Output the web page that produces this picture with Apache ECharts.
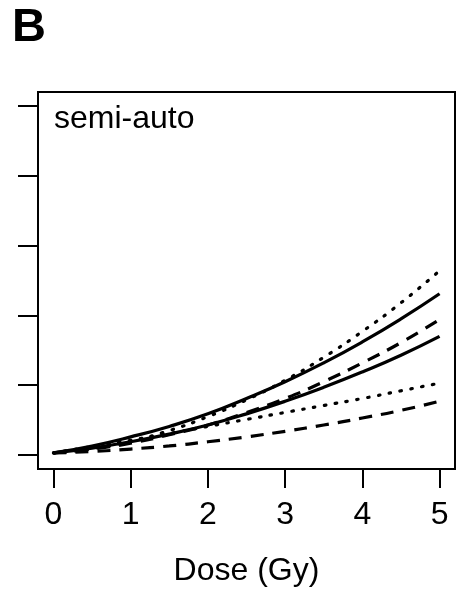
<!DOCTYPE html>
<html>
<head>
<meta charset="utf-8">
<script src="https://cdn.jsdelivr.net/npm/echarts@6/dist/echarts.min.js"></script>
<style>
html,body{margin:0;padding:0;background:#fff;}
#chart{width:456px;height:600px;}
</style>
</head>
<body>
<div id="chart"></div>
<script>
const doses = [0, 0.5, 1, 1.5, 2, 2.5, 3, 3.5, 4, 4.5, 5];
const xTicks = [0, 1, 2, 3, 4, 5];
const yTicks = [0, 1, 2, 3, 4, 5];
const solidUpper  = [0.03, 0.13, 0.26, 0.41, 0.59, 0.81, 1.05, 1.32, 1.62, 1.95, 2.31];
const solidLower  = [0.03, 0.10, 0.19, 0.30, 0.43, 0.59, 0.77, 0.97, 1.19, 1.43, 1.70];
const dottedUpper = [0.03, 0.09, 0.20, 0.35, 0.55, 0.79, 1.07, 1.40, 1.77, 2.18, 2.64];
const dottedLower = [0.03, 0.12, 0.21, 0.31, 0.41, 0.51, 0.61, 0.71, 0.81, 0.92, 1.03];
const dashedUpper = [0.03, 0.085, 0.17, 0.29, 0.43, 0.61, 0.81, 1.05, 1.32, 1.61, 1.94];
const dashedLower = [0.03, 0.05, 0.086, 0.13, 0.19, 0.26, 0.34, 0.43, 0.53, 0.64, 0.77];

const toPairs = v => doses.map((d, i) => [d, v[i]]);
const FONT = '"Liberation Sans", Arial, sans-serif';

function mk(vals, type, cap) {
  return {
    type: 'line', data: toPairs(vals), smooth: true, showSymbol: false,
    silent: true, animation: false,
    lineStyle: { color: '#000', width: 3.2, type: type, cap: cap || 'butt' }
  };
}

const chart = echarts.init(document.getElementById('chart'), null, { renderer: 'canvas' });
chart.setOption({
  backgroundColor: '#fff',
  animation: false,
  grid: { left: 38, right: 1, top: 92, bottom: 131, show: true, borderColor: '#000', borderWidth: 2,
          backgroundColor: 'transparent', containLabel: false, outerBoundsMode: 'none' },
  xAxis: {
    type: 'value', min: -0.2, max: 5.2,
    name: 'Dose (Gy)', nameLocation: 'middle', nameGap: 86,
    nameTextStyle: { fontSize: 32, color: '#000', fontFamily: FONT },
    axisLine: { show: false, onZero: false },
    splitLine: { show: false },
    axisTick: { show: true, customValues: xTicks, length: 19, lineStyle: { color: '#000', width: 2 } },
    axisLabel: { show: true, customValues: xTicks, fontSize: 32, color: '#000', fontFamily: FONT, margin: 30 }
  },
  yAxis: {
    type: 'value', min: -0.2, max: 5.2,
    axisLine: { show: false, onZero: false },
    splitLine: { show: false },
    axisTick: { show: true, customValues: yTicks, length: 20, lineStyle: { color: '#000', width: 2 } },
    axisLabel: { show: false, customValues: yTicks }
  },
  graphic: [
    { type: 'text', left: 12, top: 5, style: { text: 'B', font: 'bold 47px ' + FONT, fill: '#000' } },
    { type: 'text', left: 54, top: 103, style: { text: 'semi-auto', font: '32px ' + FONT, fill: '#000' } }
  ],
  series: [
    mk(dottedUpper, [1.5, 9.5], 'round'),
    mk(solidUpper, 'solid'),
    mk(dashedUpper, [13, 9]),
    mk(solidLower, 'solid'),
    mk(dottedLower, [1.5, 9.5], 'round'),
    mk(dashedLower, [13, 9])
  ]
});
</script>
</body>
</html>
